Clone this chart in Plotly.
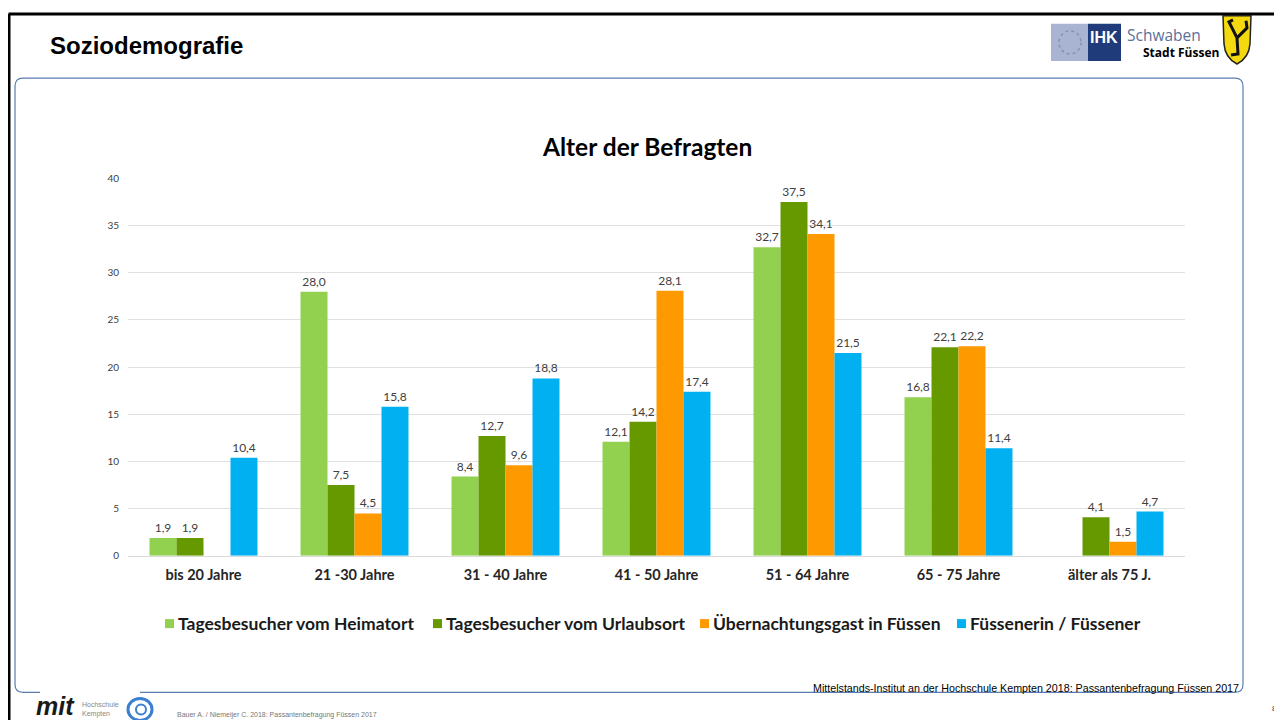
import plotly.graph_objects as go

# Seite wird im Browser leicht versetzt/gestaucht dargestellt -> Umrechnung
FW, FH = 1274, 720
OX, OY, SY = 8, 14.2, 0.981

kategorien = ["bis 20 Jahre", "21 -30 Jahre", "31 - 40 Jahre", "41 - 50 Jahre",
              "51 - 64 Jahre", "65 - 75 Jahre", "älter als 75 J."]
heimatort = [1.9, 28.0, 8.4, 12.1, 32.7, 16.8, None]
urlaubsort = [1.9, 7.5, 12.7, 14.2, 37.5, 22.1, 4.1]
uebernachtung = [None, 4.5, 9.6, 28.1, 34.1, 22.2, 1.5]
fuessener = [10.4, 15.8, 18.8, 17.4, 21.5, 11.4, 4.7]

serien = [
    ("Tagesbesucher vom Heimatort", heimatort, "#92D050"),
    ("Tagesbesucher vom Urlaubsort", urlaubsort, "#669900"),
    ("Übernachtungsgast in Füssen", uebernachtung, "#FF9900"),
    ("Füssenerin / Füssener", fuessener, "#00B0F0"),
]
# Legendenpositionen (x des Symbols)
legende_x = [165, 433, 700, 957]


def px(x):
    return (x - OX) / FW


def py(y):
    return 1 - ((y - OY) / SY) / FH


fig = go.Figure()
for name, werte, farbe in serien:
    fig.add_trace(go.Bar(
        name=name, x=kategorien, y=werte, marker_color=farbe, marker_line_width=0,
        texttemplate="%{y:.1f}", textposition="outside", cliponaxis=False,
        textfont=dict(size=12, color="#404040", family="Lato"),
    ))

# Rahmen der Folie
pfad = ("M {} {} L {} {} Q {} {} {} {} L {} {} Q {} {} {} {} L {} {} Q {} {} {} {} "
        "L {} {} Q {} {} {} {} L {} {}").format(
    px(140), py(690), px(1235), py(690), px(1243), py(690), px(1243), py(682),
    px(1243), py(86), px(1243), py(78), px(1235), py(78),
    px(23), py(78), px(15), py(78), px(15), py(86),
    px(15), py(682), px(15), py(690), px(23), py(690), px(40), py(690))

shapes = [
    dict(type="line", x0=px(8.5), y0=1, x1=1, y1=1, line=dict(color="black", width=3)),
    dict(type="line", x0=px(9), y0=1, x1=px(9), y1=0, line=dict(color="black", width=3)),
    dict(type="path", path=pfad, line=dict(color="#5a7bb0", width=1.2)),
    # IHK Logo
    dict(type="rect", x0=px(1051), y0=py(24), x1=px(1088), y1=py(61), fillcolor="#a9b4d3", line_width=0),
    dict(type="circle", x0=px(1059), y0=py(31), x1=px(1081), y1=py(54),
         line=dict(color="#8591b8", width=1.5, dash="dot")),
    dict(type="rect", x0=px(1088), y0=py(24), x1=px(1121), y1=py(61), fillcolor="#1f3b7a", line_width=0),
    # Wappen
    dict(type="path",
         path="M {} {} L {} {} L {} {} Q {} {} {} {} Q {} {} {} {} Z".format(
             px(1223), py(16), px(1251), py(16), px(1250), py(44),
             px(1249), py(58), px(1237), py(64), px(1225), py(58), px(1224), py(44)),
         fillcolor="#f5d90f", line=dict(color="#222", width=1.5)),
    dict(type="path",
         path="M {} {} L {} {} L {} {} M {} {} L {} {} L {} {} M {} {} L {} {} L {} {}".format(
             px(1237), py(38), px(1229), py(22), px(1233), py(20),
             px(1237), py(38), px(1247), py(28), px(1246), py(21),
             px(1237), py(38), px(1238), py(54), px(1231), py(55)),
         line=dict(color="#111", width=3)),
    # Hochschule Logo
    dict(type="circle", x0=px(128), y0=py(696), x1=px(152), y1=py(718),
         fillcolor="#ffffff", line=dict(color="#3a7fd0", width=3)),
    dict(type="circle", x0=px(136), y0=py(702), x1=px(146), y1=py(712),
         fillcolor="#ffffff", line=dict(color="#3a7fd0", width=2)),
]

annotations = [
    dict(text="<b>Soziodemografie</b>", x=px(48), y=py(46), xanchor="left", yanchor="middle",
         font=dict(size=24, family="Liberation Sans", color="black")),
    dict(text="<b>Alter der Befragten</b>", x=px(647), y=py(146), xanchor="center", yanchor="middle",
         font=dict(size=24.5, family="Lato", color="black")),
    dict(text="<b>IHK</b>", x=px(1104), y=py(38), xanchor="center", yanchor="middle",
         font=dict(size=16, family="Liberation Sans", color="white")),
    dict(text="Schwaben", x=px(1125), y=py(35), xanchor="left", yanchor="middle",
         font=dict(size=15.5, family="Open Sans", color="#5b6f9a")),
    dict(text="<b>Stadt Füssen</b>", x=px(1221), y=py(53), xanchor="right", yanchor="middle",
         font=dict(size=12, family="Open Sans", color="black")),
    dict(text="<b><i>mit</i></b>", x=px(34), y=py(704), xanchor="left", yanchor="middle",
         font=dict(size=25, family="Liberation Sans", color="#1a1a1a")),
    dict(text="Hochschule<br>Kempten", x=px(80), y=py(707), xanchor="left", yanchor="middle",
         align="left", font=dict(size=7, family="Liberation Sans", color="#888")),
    dict(text="Mittelstands-Institut an der Hochschule Kempten 2018: Passantenbefragung Füssen 2017",
         x=px(1241), y=py(686), xanchor="right", yanchor="middle",
         font=dict(size=10.7, family="Liberation Sans", color="black")),
    dict(text="Bauer A. / Niemeijer C. 2018: Passantenbefragung Füssen 2017",
         x=px(175), y=py(713), xanchor="left", yanchor="middle",
         font=dict(size=7, family="Liberation Sans", color="#777")),
    dict(text="8", x=px(1279), y=py(706), xanchor="right", yanchor="middle",
         font=dict(size=8, family="Liberation Sans", color="#333")),
]

# eigene Legende
for (name, _, farbe), lx in zip(serien, legende_x):
    shapes.append(dict(type="rect", x0=px(lx), y0=py(626), x1=px(lx + 9), y1=py(617),
                       fillcolor=farbe, line_width=0))
    annotations.append(dict(text="<b>" + name + "</b>", x=px(lx + 11), y=py(621),
                            xanchor="left", yanchor="middle",
                            font=dict(size=17.5, family="Lato", color="#1a1a1a")))

for s in shapes:
    s.update(xref="paper", yref="paper")
for a in annotations:
    a.update(xref="paper", yref="paper", showarrow=False)

fig.update_layout(
    width=FW, height=FH,
    margin=dict(l=0, r=0, t=0, b=0),
    paper_bgcolor="white", plot_bgcolor="white",
    separators=",.",
    barmode="group", bargap=0.285, bargroupgap=0,
    font=dict(family="Lato", color="#404040"),
    xaxis=dict(domain=[px(128), px(1185)], tickfont=dict(size=14.5, color="#262626"),
               showline=True, linecolor="#d9d9d9", ticks="", ticklabelstandoff=6),
    yaxis=dict(domain=[py(554), py(178)], range=[0, 40], dtick=5,
               gridcolor="#e0e0e0", zeroline=False, tickfont=dict(size=10, color="#404040"),
               ticklabelstandoff=8),
    showlegend=False,
    shapes=shapes,
    annotations=annotations,
)
fig.update_xaxes(tickvals=kategorien, ticktext=["<b>" + k + "</b>" for k in kategorien])

fig.write_html("out.html")
